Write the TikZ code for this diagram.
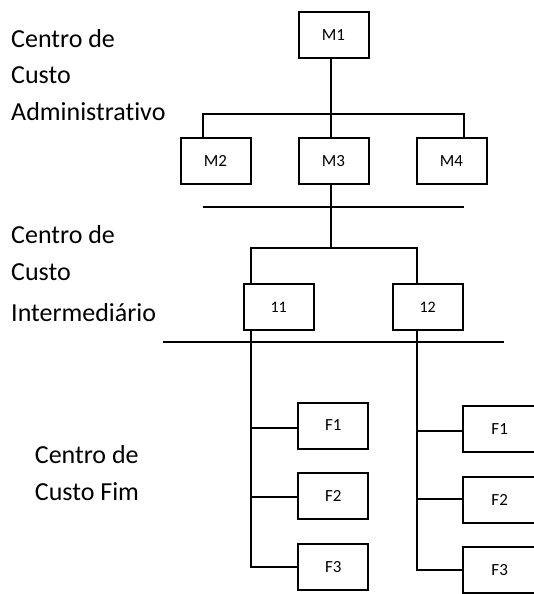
\documentclass[tikz,border=0pt]{standalone}
\usepackage{fontspec}
\setmainfont[Ligatures = NoCommon]{Carlito}
\tikzset {
    tree line/.style = {line width = 2pt},
    cost box/.style = {
        draw, line width = 2pt,
        minimum width = 70pt, minimum height = 46pt,
        inner sep = 0pt, font = \fontsize{17}{20}\selectfont
    },
    number box/.style = {cost box, font = \fontsize{16}{19}\selectfont},
    wide box/.style = {cost box, minimum width = 74pt},
    level text/.style = {anchor = base west, inner sep = 0pt, font = \fontsize{26}{30}\selectfont}
}
\begin{document}
\begin{tikzpicture}[x = 1pt, y = -1pt]
    \useasboundingbox (0, 0) rectangle (533, 594);
    % level names
    \node (adm1) [level text] at (11, 47.3) {Centro de};
    \node (adm2) [level text] at (11, 83.3) {Custo};
    \node (adm3) [level text] at (11, 120.7) {Administrativo};
    \node (int1) [level text] at (11, 243.3) {Centro de};
    \node (int2) [level text] at (11, 280) {Custo};
    \node (int3) [level text] at (11, 321.7) {Intermediário};
    \node (fim1) [level text] at (34.7, 463.3) {Centro de};
    \node (fim2) [level text] at (34.7, 500.7) {Custo Fim};
    % boxes
    \node (M1) [cost box] at (333.5, 35.5) {M1};
    \node (M2) [cost box] at (215.5, 161.3) {M2};
    \node (M3) [cost box] at (333.5, 161.3) {M3};
    \node (M4) [cost box] at (451.5, 161.3) {M4};
    \node (I11) [number box] at (278.7, 307.2) {11};
    \node (I12) [number box] at (427.7, 307.2) {12};
    \node (F1a) [cost box] at (333.3, 425.5) {F1};
    \node (F2a) [cost box] at (333.3, 496.3) {F2};
    \node (F3a) [cost box] at (333.3, 566.7) {F3};
    \node (F1b) [wide box] at (499.7, 428.7) {F1};
    \node (F2b) [wide box] at (499.7, 499.7) {F2};
    \node (F3b) [wide box] at (499.7, 570.3) {F3};
    % junctions
    \coordinate (jM) at (331, 114.3);
    \coordinate (barL) at (203, 114.3);
    \coordinate (barR) at (464, 114.3);
    \coordinate (sepAl) at (203, 206.7);
    \coordinate (sepAr) at (464.3, 206.7);
    \coordinate (bar2L) at (251, 247.7);
    \coordinate (bar2R) at (416.7, 247.7);
    \coordinate (sepBl) at (163.3, 342.3);
    \coordinate (sepBr) at (504.3, 342.3);
    \coordinate (tF1a) at (251, 428.3);
    \coordinate (tF2a) at (251, 496.7);
    \coordinate (tF3a) at (251, 567.3);
    \coordinate (tF1b) at (416.7, 431);
    \coordinate (tF2b) at (416.7, 498.5);
    \coordinate (tF3b) at (416.7, 570);
    % connectors
    \draw [tree line] (M1.south -| jM) -- (M3.north -| jM);
    \draw [tree line] (M2.north -| barL) -- (barL) -- (barR) -- (M4.north -| barR);
    \draw [tree line] (sepAl) -- (sepAr);
    \draw [tree line] (M3.south -| jM) -- (jM |- bar2L);
    \draw [tree line] (I11.north -| bar2L) -- (bar2L) -- (bar2R) -- (I12.north -| bar2R);
    \draw [tree line] (sepBl) -- (sepBr);
    \draw [tree line] (I11.south -| bar2L) -- (tF3a) -- (F3a.west |- tF3a);
    \draw [tree line] (tF1a) -- (F1a.west |- tF1a);
    \draw [tree line] (tF2a) -- (F2a.west |- tF2a);
    \draw [tree line] (I12.south -| bar2R) -- (tF3b) -- (F3b.west |- tF3b);
    \draw [tree line] (tF1b) -- (F1b.west |- tF1b);
    \draw [tree line] (tF2b) -- (F2b.west |- tF2b);
\end{tikzpicture}
\end{document}
